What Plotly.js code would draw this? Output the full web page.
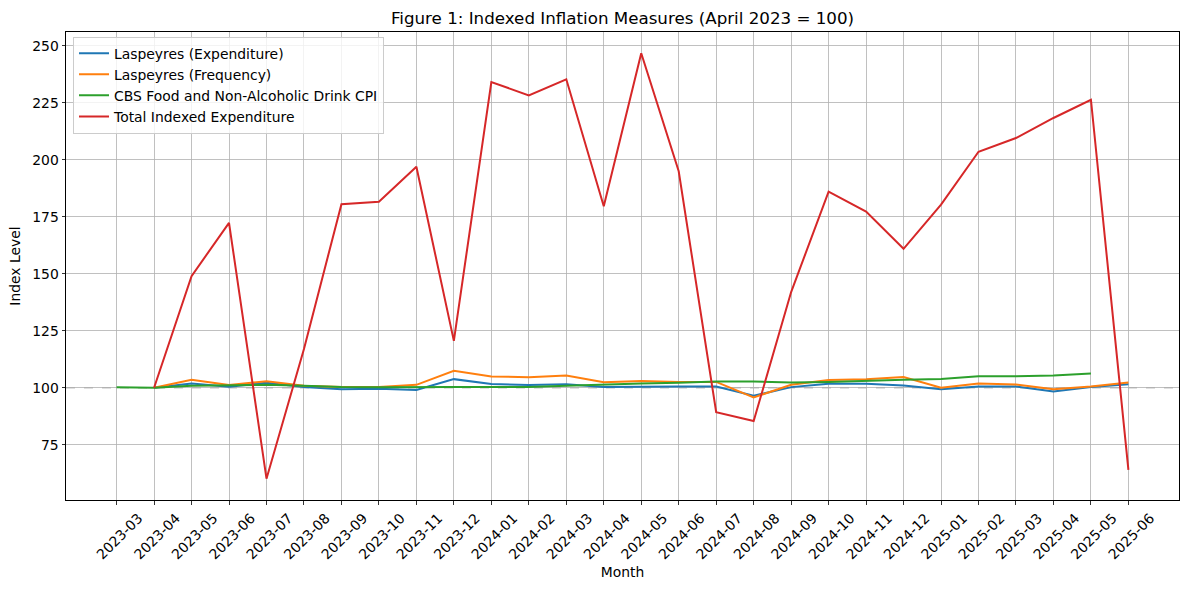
<!DOCTYPE html>
<html>
<head>
<meta charset="utf-8">
<script src="https://cdn.plot.ly/plotly-3.0.1.min.js"></script>
<style>
  html, body { margin: 0; padding: 0; background: #fff; }
  #chart { width: 1189px; height: 590px; }
</style>
</head>
<body>
<div id="chart"></div>
<script>
const months = ['2023-03','2023-04','2023-05','2023-06','2023-07','2023-08','2023-09','2023-10','2023-11','2023-12',
  '2024-01','2024-02','2024-03','2024-04','2024-05','2024-06','2024-07','2024-08','2024-09','2024-10','2024-11','2024-12',
  '2025-01','2025-02','2025-03','2025-04','2025-05','2025-06'];

const laspeyresExpenditure = [null, 100, 101.9, 100.5, 102.2, 100.4, 99.4, 99.6, 99.0, 103.8,
  101.7, 101.2, 101.6, 100.4, 100.6, 100.6, 100.6, 96.5, 100.3, 101.8, 101.8, 101.0,
  99.4, 100.6, 100.6, 98.4, 100.3, 101.6];

const laspeyresFrequency = [null, 100, 103.5, 101.2, 102.9, 100.9, 100.3, 100.3, 101.3, 107.5,
  105.0, 104.6, 105.4, 102.4, 103.0, 102.5, 102.6, 95.8, 101.3, 103.4, 103.7, 104.7,
  100.0, 101.9, 101.5, 99.4, 100.6, 102.3];

const cbsFoodCPI = [100.2, 100, 100.9, 101.0, 101.3, 100.9, 100.3, 100.2, 100.1, 100.3,
  100.3, 100.4, 100.9, 101.5, 101.9, 102.2, 102.8, 102.8, 102.3, 102.5, 103.1, 103.5,
  103.9, 105.1, 105.1, 105.4, 106.3, null];

const totalIndexedExpenditure = [null, 100, 149.0, 172.4, 60.1, 117.0, 180.6, 181.6, 197.0, 120.6,
  234.2, 228.3, 235.4, 179.7, 246.8, 195.0, 89.3, 85.4, 142.0, 186.1, 177.3, 161.0,
  180.4, 203.6, 209.6, 218.4, 226.4, 64.0];

const seriesNames = ['Laspeyres (Expenditure)', 'Laspeyres (Frequency)', 'CBS Food and Non-Alcoholic Drink CPI', 'Total Indexed Expenditure'];
const baseline = 100;

const colors = ['#1f77b4', '#ff7f0e', '#2ca02c', '#d62728'];
const seriesData = [laspeyresExpenditure, laspeyresFrequency, cbsFoodCPI, totalIndexedExpenditure];

const traces = seriesData.map((ys, i) => ({
  type: 'scatter',
  mode: 'lines',
  x: months,
  y: ys,
  name: seriesNames[i],
  line: { color: colors[i], width: 2 },
  connectgaps: false
}));

// y range as matplotlib default (5% margins)
const allVals = seriesData.flat().filter(v => v !== null);
const ymin = Math.min(...allVals), ymax = Math.max(...allVals);
const ypad = (ymax - ymin) * 0.05;
const xpad = (months.length - 1) * 0.05;

const font = 'DejaVu Sans, sans-serif';

const layout = {
  width: 1189,
  height: 590,
  margin: { l: 66, r: 10, t: 32, b: 90 },
  paper_bgcolor: '#ffffff',
  plot_bgcolor: '#ffffff',
  font: { family: font, size: 13.9, color: '#000' },
  title: {
    text: 'Figure 1: Indexed Inflation Measures (April 2023 = 100)',
    font: { family: font, size: 16.7, color: '#000' },
    x: 0.5, xref: 'paper', xanchor: 'center',
    y: 1 - 18 / 590, yref: 'container', yanchor: 'middle'
  },
  showlegend: true,
  legend: {
    x: 0.0063, y: 0.99, xanchor: 'left', yanchor: 'top',
    bgcolor: 'rgba(255,255,255,0.8)',
    bordercolor: '#cccccc', borderwidth: 1,
    font: { family: font, size: 13.9, color: '#000' },
    tracegroupgap: 0
  },
  xaxis: {
    type: 'category',
    categoryorder: 'array',
    categoryarray: months,
    range: [-xpad, months.length - 1 + xpad],
    showgrid: true, gridcolor: '#b0b0b0', gridwidth: 0.8,
    showline: true, linecolor: '#000', linewidth: 1, mirror: true,
    ticks: 'outside', ticklen: 3.5, tickwidth: 0.8, tickcolor: '#000',
    tickangle: -45,
    ticklabelshift: 22,
    tickfont: { family: font, size: 13.9, color: '#000' },
    zeroline: false,
    title: { text: 'Month', font: { family: font, size: 13.9, color: '#000' }, standoff: 5 },
    automargin: false
  },
  yaxis: {
    range: [ymin - ypad, ymax + ypad],
    tick0: 0, dtick: 25,
    showgrid: true, gridcolor: '#b0b0b0', gridwidth: 0.8,
    showline: true, linecolor: '#000', linewidth: 1, mirror: true,
    ticks: 'outside', ticklen: 3.5, tickwidth: 0.8, tickcolor: '#000',
    tickfont: { family: font, size: 13.9, color: '#000' },
    zeroline: false,
    title: { text: 'Index Level', font: { family: font, size: 13.9, color: '#000' }, standoff: 8 },
    automargin: false
  },
  shapes: [{
    type: 'line', xref: 'paper', x0: 0, x1: 1, yref: 'y', y0: baseline, y1: baseline,
    line: { color: '#808080', width: 0.8, dash: 'dash' },
    layer: 'between'
  }]
};

Plotly.newPlot('chart', traces, layout, { displayModeBar: false, staticPlot: true });
</script>
</body>
</html>
